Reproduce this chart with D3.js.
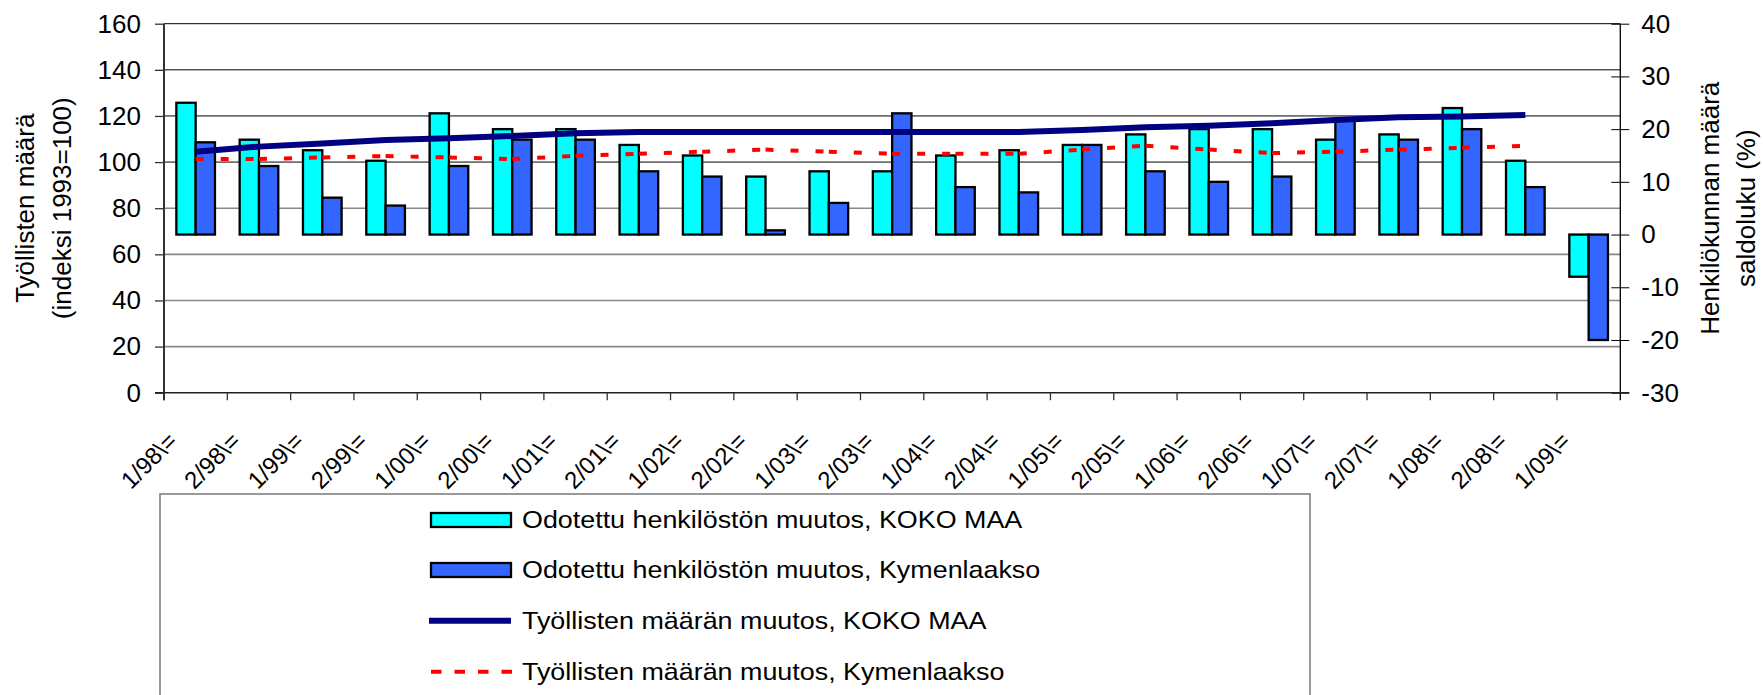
<!DOCTYPE html>
<html><head><meta charset="utf-8">
<script src="https://cdn.jsdelivr.net/npm/d3@7"></script>
<style>
body{margin:0;background:#fff}
svg{display:block}
text{font-family:"Liberation Sans",Arial,sans-serif;fill:#000}
</style>
</head><body>
<svg id="c" width="1763" height="695"></svg>
<script>
// ---------- data ----------
const categories = ["1/98\\=","2/98\\=","1/99\\=","2/99\\=","1/00\\=","2/00\\=","1/01\\=","2/01\\=",
  "1/02\\=","2/02\\=","1/03\\=","2/03\\=","1/04\\=","2/04\\=","1/05\\=","2/05\\=","1/06\\=","2/06\\=",
  "1/07\\=","2/07\\=","1/08\\=","2/08\\=","1/09\\="];
// Odotettu henkilöstön muutos (saldoluku %, right axis)
const barKokoMaa     = [25, 18, 16, 14, 23, 20, 20, 17, 15, 11, 12, 12, 15, 16, 17, 19, 20, 20, 18, 19, 24, 14, -8];
const barKymenlaakso = [17.5, 13, 7, 5.5, 13, 18, 18, 12, 11, 0.8, 6, 23, 9, 8, 17, 12, 10, 11, 22, 18, 20, 9, -20];
// Työllisten määrän muutos (indeksi 1993=100, left axis)
const lineKokoMaa     = [104.5, 106.7, 108.1, 109.6, 110.3, 111.3, 112.5, 113.0, 113.0, 113.0, 113.0, 113.0,
  113.0, 113.0, 113.9, 115.1, 115.8, 116.8, 118.2, 119.4, 119.8, 120.4, null];
const lineKymenlaakso = [101.3, 101.3, 102.0, 102.6, 102.0, 101.3, 102.7, 103.6, 104.5, 105.4, 104.5, 103.6,
  103.6, 103.6, 105.4, 107.1, 105.4, 103.9, 104.5, 105.4, 106.2, 107.1, null];
const leftTicks  = [0, 20, 40, 60, 80, 100, 120, 140, 160];
const rightTicks = [-30, -20, -10, 0, 10, 20, 30, 40];
const seriesNames = ["Odotettu henkilöstön muutos, KOKO MAA",
                     "Odotettu henkilöstön muutos, Kymenlaakso",
                     "Työllisten määrän muutos, KOKO MAA",
                     "Työllisten määrän muutos, Kymenlaakso"];
const leftTitle  = ["Työllisten määrä", "(indeksi 1993=100)"];
const rightTitle = ["Henkilökunnan määrä", "saldoluku (%)"];

// ---------- layout ----------
const X0 = 164, X1 = 1620.3, Y0 = 23.7, Y1 = 392.7;
const C_CYAN = "#00FFFF", C_BLUE = "#3366FF", C_NAVY = "#000080", C_RED = "#FF0000";

const svg = d3.select("#c");
const x  = d3.scaleBand().domain(categories).range([X0, X1]).padding(0);
const yL = d3.scaleLinear().domain([0, 160]).range([Y1, Y0]);
const yR = d3.scaleLinear().domain([-30, 40]).range([Y1, Y0]);
const bw = x.bandwidth();
const fmt = d => String(d);

// gridlines
svg.append("g").selectAll("line").data(leftTicks.filter(d => d > 0)).join("line")
  .attr("x1", X0).attr("x2", X1)
  .attr("y1", d => yL(d)).attr("y2", d => yL(d))
  .attr("stroke", d => d >= 100 ? "#000" : "#888")
  .attr("stroke-width", d => d >= 100 ? 1 : 1.6);

// bars
const barW = bw * 0.305;
const gB = svg.append("g");
[[barKokoMaa, C_CYAN, 0], [barKymenlaakso, C_BLUE, 1]].forEach(([vals, col, k]) => {
  gB.append("g").selectAll("rect").data(categories).join("rect")
    .attr("x", c => x(c) + bw / 2 - barW + k * barW)
    .attr("width", barW)
    .attr("y", (c, i) => Math.min(yR(vals[i]), yR(0)))
    .attr("height", (c, i) => Math.abs(yR(vals[i]) - yR(0)))
    .attr("fill", col).attr("stroke", "#000").attr("stroke-width", 2.3);
});

// lines
const cx = c => x(c) + bw / 2;
const ptsK = categories.map((c, i) => [cx(c), lineKokoMaa[i]]).filter(p => p[1] != null);
const ptsR = categories.map((c, i) => [cx(c), lineKymenlaakso[i]]).filter(p => p[1] != null);
const lineGen = d3.line().x(p => p[0]).y(p => yL(p[1]));
// dashed red: pattern restarts at each point
const segs = d3.pairs(ptsR);
svg.append("g").selectAll("path").data(segs).join("path")
  .attr("d", s => lineGen(s))
  .attr("fill", "none").attr("stroke", C_RED).attr("stroke-width", 4)
  .attr("stroke-dasharray", "8,17");
svg.append("path").attr("d", lineGen(ptsK))
  .attr("fill", "none").attr("stroke", C_NAVY).attr("stroke-width", 6);

// left axis
const axL = svg.append("g").attr("transform", `translate(${X0},0)`)
  .call(d3.axisLeft(yL).tickValues(leftTicks).tickSize(9).tickPadding(14).tickFormat(fmt));
axL.select(".domain").remove();
axL.selectAll(".tick line").attr("stroke", "#333").attr("stroke-width", 1.3);
axL.selectAll(".tick text").attr("font-size", 26).attr("font-family", '"Liberation Sans",Arial,sans-serif').attr("fill", "#000");
svg.append("line").attr("x1", X0).attr("x2", X0).attr("y1", Y0).attr("y2", Y1 + 7.5)
  .attr("stroke", "#333").attr("stroke-width", 2);

// right axis
const axR = svg.append("g").attr("transform", `translate(${X1},0)`)
  .call(d3.axisRight(yR).tickValues(rightTicks).tickSize(9).tickPadding(12).tickFormat(fmt));
axR.select(".domain").remove();
axR.selectAll(".tick line").attr("x1", -9).attr("x2", 9).attr("stroke", "#000").attr("stroke-width", 1);
axR.selectAll(".tick text").attr("font-size", 26).attr("font-family", '"Liberation Sans",Arial,sans-serif').attr("fill", "#000");
svg.append("line").attr("x1", X1).attr("x2", X1).attr("y1", Y0).attr("y2", Y1 + 7.5)
  .attr("stroke", "#000").attr("stroke-width", 1.3);

// category axis
svg.append("line").attr("x1", X0 - 9).attr("x2", X1 + 9).attr("y1", Y1).attr("y2", Y1)
  .attr("stroke", "#222").attr("stroke-width", 1.6);
svg.append("g").selectAll("line").data(categories).join("line")
  .attr("x1", c => x(c)).attr("x2", c => x(c)).attr("y1", Y1).attr("y2", Y1 + 7.5)
  .attr("stroke", "#333").attr("stroke-width", 1.3);
svg.append("g").selectAll("text").data(categories).join("text")
  .attr("transform", c => `translate(${cx(c) - 17},442.5) rotate(-45)`)
  .attr("text-anchor", "end").attr("font-size", 24).text(c => c);

// axis titles
leftTitle.forEach((t, i) => svg.append("text")
  .attr("transform", `translate(${[34, 71][i]},${(Y0 + Y1) / 2}) rotate(-90)`)
  .attr("text-anchor", "middle").attr("font-size", 26).text(t));
rightTitle.forEach((t, i) => svg.append("text")
  .attr("transform", `translate(${[1719, 1755][i]},${(Y0 + Y1) / 2}) rotate(-90)`)
  .attr("text-anchor", "middle").attr("font-size", 26).text(t));

// legend
svg.append("rect").attr("x", 160).attr("y", 494).attr("width", 1150).attr("height", 230)
  .attr("fill", "none").attr("stroke", "#808080").attr("stroke-width", 1.6);
const legY = [520, 570, 620.7, 671.7];
const lg = svg.append("g");
lg.append("rect").attr("x", 431).attr("y", legY[0] - 7).attr("width", 80).attr("height", 14)
  .attr("fill", C_CYAN).attr("stroke", "#000").attr("stroke-width", 2.3);
lg.append("rect").attr("x", 431).attr("y", legY[1] - 7).attr("width", 80).attr("height", 14)
  .attr("fill", C_BLUE).attr("stroke", "#000").attr("stroke-width", 2.3);
lg.append("line").attr("x1", 429).attr("x2", 511).attr("y1", legY[2]).attr("y2", legY[2])
  .attr("stroke", C_NAVY).attr("stroke-width", 6);
lg.append("line").attr("x1", 431).attr("x2", 512).attr("y1", legY[3]).attr("y2", legY[3])
  .attr("stroke", C_RED).attr("stroke-width", 4).attr("stroke-dasharray", "10.5,13");
lg.selectAll("text").data(seriesNames).join("text")
  .attr("transform", (d, i) => `translate(522,${legY[i]}) scale(1.12,1)`)
  .attr("dominant-baseline", "central").attr("font-size", 24).text(d => d);
</script>
</body></html>
